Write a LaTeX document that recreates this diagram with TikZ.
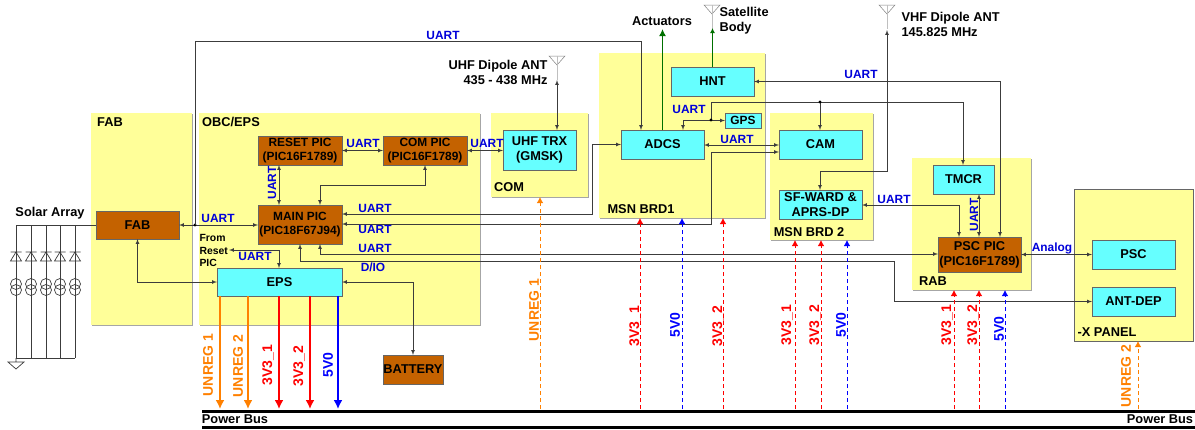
\documentclass[tikz,border=0pt]{standalone}
\usepackage{fontspec}
\setmainfont{Liberation Sans}
\usepackage{tikz}
\definecolor{boardyellow}{RGB}{255,255,153}
\definecolor{blockcyan}{RGB}{102,255,255}
\definecolor{picbrown}{RGB}{196,98,0}
\definecolor{pworange}{RGB}{255,128,0}
\definecolor{wiregray}{RGB}{60,60,60}
\definecolor{greenwire}{RGB}{0,112,0}
\usetikzlibrary{arrows, arrows.meta, shadows}

\begin{document}
\begin{tikzpicture}[x=1pt, y=-1pt, >=latex,
				font=\fontsize{12.8}{15}\selectfont\bfseries,
				panel/.style={anchor=north west, fill=boardyellow, inner sep=0pt, outer sep=0pt, drop shadow={shadow xshift=1pt, shadow yshift=-1pt, fill=gray!70, opacity=1}},
				block/.style={anchor=north west, draw=gray!80!black, fill=blockcyan, align=center, inner sep=0pt, outer sep=0pt},
				pic/.style={block, fill=picbrown},
				small/.style={font=\fontsize{11.9}{14}\selectfont\bfseries},
				wire/.style={draw=wiregray, line width=0.7pt},
				uart/.style={small, text=blue!85!black},
				pwr/.style={-{Latex[length=9pt,width=9pt]}, line width=1.7pt},
				pwrdash/.style={-{Latex[length=6pt,width=6.5pt]}, line width=0.9pt, dash pattern=on 4.5pt off 2.5pt}]
				\useasboundingbox (0,0) rectangle (1195,429);
				% Platinen
				\node[panel, minimum width=101pt, minimum height=212pt] (fabbrd) at (91,113) {};
				\node[panel, minimum width=281pt, minimum height=212pt] (obcbrd) at (199,113) {};
				\node[panel, minimum width=97pt, minimum height=84pt] (combrd) at (491,113) {};
				\node[panel, minimum width=166pt, minimum height=165pt] (msnone) at (599,53) {};
				\node[panel, minimum width=103pt, minimum height=127pt] (msntwo) at (770,113) {};
				\node[panel, minimum width=119pt, minimum height=132pt] (rabbrd) at (912,158) {};
				\node[panel, draw=black!60, minimum width=119pt, minimum height=152pt] (xpanel) at (1074,189) {};
				% Platinen beschriften
				\node (fabname) at (110,122) {FAB};
				\node (obcname) at (231,122) {OBC/EPS};
				\node (comname) at (509,187) {COM};
				\node (msnonename) at (641,209) {MSN BRD1};
				\node (msntwoname) at (809,232) {MSN BRD 2};
				\node (rabname) at (933,281) {RAB};
				\node (xname) at (1107,332) {-X PANEL};
				% Bloecke
				\node[pic, minimum width=83pt, minimum height=28pt] (fab) at (96,211) {FAB};
				\node[pic, small, minimum width=84pt, minimum height=29pt] (resetpic) at (258,136) {RESET PIC\\(PIC16F1789)};
				\node[pic, small, minimum width=84pt, minimum height=29pt] (compic) at (383,136) {COM PIC\\(PIC16F1789)};
				\node[pic, small, minimum width=84pt, minimum height=39pt] (mainpic) at (258,205) {MAIN PIC\\(PIC18F67J94)};
				\node[block, minimum width=125pt, minimum height=28pt] (eps) at (217,268) {EPS};
				\node[pic, minimum width=60pt, minimum height=29pt] (battery) at (383,355) {BATTERY};
				\node[block, minimum width=73pt, minimum height=40pt] (uhftrx) at (503,130) {UHF TRX\\(GMSK)};
				\node[block, minimum width=83pt, minimum height=29pt] (adcs) at (621,130) {ADCS};
				\node[block, minimum width=83pt, minimum height=29pt] (hnt) at (671,67) {HNT};
				\node[block, small, minimum width=36pt, minimum height=15pt] (gps) at (725,113) {GPS};
				\node[block, minimum width=83pt, minimum height=29pt] (cam) at (779,130) {CAM};
				\node[block, minimum width=83pt, minimum height=29pt] (sfward) at (779,190) {SF-WARD \&\\APRS-DP};
				\node[block, minimum width=61pt, minimum height=29pt] (tmcr) at (933,165) {TMCR};
				\node[pic, minimum width=83pt, minimum height=35pt] (pscpic) at (938,237) {PSC PIC\\(PIC16F1789)};
				\node[block, minimum width=83pt, minimum height=29pt] (psc) at (1092,240) {PSC};
				\node[block, minimum width=83pt, minimum height=29pt] (antdep) at (1092,287) {ANT-DEP};
				% Antennen
				\coordinate (uhfant) at (557,56);
				\coordinate (satant) at (712,5);
				\coordinate (vhfant) at (887,5);
				\foreach \a in {uhfant,satant,vhfant} {
					\draw[gray, line width=0.5pt] (\a) ++(-8,0) -- ++(16,0) -- ++(-8,9) -- cycle;
					\draw[gray!50, line width=0.6pt] (\a) -- ++(0,24);
				}
				% Solarzellen
				\node (solar) at (50,213) {Solar Array};
				\coordinate (gnd) at (16,358);
				\draw[wire] (fab.west) -- (fab.west -| gnd) -- (gnd);
				\foreach \x in {31,46,60,75} {
					\draw[wire] (\x,225) -- (\x,358);
				}
				\foreach \x in {16,31,46,60,75} {
					\draw[wire] (\x,252) ++(-5.5,0) -- ++(11,0) ++(-5.5,0) -- ++(-5.5,9) -- ++(11,0) -- cycle;
					\draw[wire] (\x,284) circle[radius=5.5];
					\draw[wire] (\x,290) circle[radius=5.5];
				}
				\draw[wire] (gnd) -- (75,358);
				\draw[wire] (gnd) -- ++(0,4) ++(-8,0) -- ++(16,0) -- ++(-8,7) -- cycle;
				% Verbindungen OBC/EPS
				\coordinate (fabjoint) at (195,225);
				\draw[wire, <->] (fab.east) -- (fab.east -| mainpic.west);
				\fill[black] (fabjoint) circle[radius=1.6];
				\draw[wire, ->] (fabjoint) -- (195,41) -- (641,41) -- (641,0 |- adcs.north);
				\draw[wire, <->] (fab.south) |- (eps.west);
				\draw[wire, <->] (resetpic.east) -- (compic.west);
				\draw[wire, <->] (279,0 |- resetpic.south) -- (279,0 |- mainpic.north);
				\draw[wire, <->] (compic.south) -- (425,185) -- (320,185) -- (320,0 |- mainpic.north);
				\draw[wire, <->] (compic.east) -- (compic.east -| uhftrx.west);
				\draw[wire, <->] (uhftrx.north -| uhfant) -- (557,80);
				\coordinate (fromreset) at (229,250);
				\draw[wire, <->] (fromreset) -- (279,250) -- (279,0 |- eps.north);
				\draw[wire, <->] (eps.east) -- (413,0 |- eps.east) -- (413,0 |- battery.north);
				% lange Leitungen
				\draw[wire, <->] (mainpic.east |- 0,214) -- (592,214) |- (adcs.west);
				\draw[wire, <->] (mainpic.east |- 0,224) -- (711,224) -- (711,152) -- (cam.west |- 0,152);
				\draw[wire, <->] (320,0 |- mainpic.south) -- (320,254) -- (pscpic.west |- 0,254);
				\draw[wire, <->] (300,0 |- mainpic.south) -- (300,261) -- (894,261) |- (antdep.west);
				\draw[wire, <->] (adcs.east |- 0,145) -- (cam.west |- 0,145);
				\draw[wire, <->] (hnt.east) -- (1000,0 |- hnt.east) -- (1000,0 |- pscpic.north);
				% GPS-Strang
				\coordinate (gpsjoint) at (711,120);
				\coordinate (camjoint) at (820,102);
				\draw[wire, ->] (gpsjoint) -- (gpsjoint |- gps.west) -- (gps.west);
				\draw[wire, ->] (gpsjoint) -- (683,120) -- (683,0 |- adcs.north);
				\draw[wire, ->] (gpsjoint) -- (711,102) -- (963,102) -- (963,0 |- tmcr.north);
				\draw[wire, ->] (camjoint) -- (camjoint |- cam.north);
				\fill[black] (gpsjoint) circle[radius=1.6];
				\fill[black] (camjoint) circle[radius=1.6];
				% VHF und RAB
				\draw[wire, <->] (820,0 |- sfward.north) -- (820,171) -- (887,171) -- (887,30);
				\draw[wire, <->] (sfward.east |- 0,205) -- (959,205) -- (959,0 |- pscpic.north);
				\draw[wire, <->] (979,0 |- tmcr.south) -- (979,0 |- pscpic.north);
				\draw[wire, <->] (pscpic.east |- psc.west) -- (psc.west);
				% Aktuatoren
				\node (actuators) at (662,21) {Actuators};
				\draw[-{Latex[length=7pt,width=7pt]}, greenwire, line width=1.6pt] (adcs.north) -- (adcs.north |- actuators.south);
				\draw[-{Latex[length=5pt,width=5pt]}, greenwire, line width=1.1pt] (hnt.north) -- (hnt.north |- 0,28);
				% Power Bus
				\coordinate (busleft) at (202,411);
				\coordinate (busright) at (1195,411);
				\coordinate (bus) at (202,409);
				\draw[line width=3pt] (busleft) -- (busright);
				\draw[line width=3pt] (202,427.5) -- (1195,427.5);
				\node (busnamel) at (235,419) {Power Bus};
				\node (busnamer) at (1160,419) {Power Bus};
				\foreach \x/\c in {220/pworange,248/pworange,279/red,310/red,338/blue} {
					\draw[pwr,\c] (\x,0 |- eps.south) -- (\x,0 |- bus);
				}
				\foreach \x/\c/\b in {540/pworange/combrd,640/red/msnone,682/blue/msnone,723/red/msnone,795/red/msntwo,821/red/msntwo,847/blue/msntwo,954/red/rabbrd,979/red/rabbrd,1005/blue/rabbrd,1138/pworange/xpanel} {
					\draw[pwrdash,\c] (\x,0 |- bus) -- (\x,0 |- \b.south);
				}
				% Spannungen beschriften
				\foreach \n/\x/\y/\c/\t in {a/208/365/pworange/UNREG 1,b/238/366/pworange/UNREG 2,c/268/365/red/3V3\_1,d/299/366/red/3V3\_2,e/328/365/blue/5V0,f/534/310/pworange/UNREG 1,g/635/326/red/3V3\_1,h/675/325/blue/5V0,i/718/326/red/3V3\_2,j/787/325/red/3V3\_1,k/815/325/red/3V3\_2,l/841/325/blue/5V0,m/947/325/red/3V3\_1,n/973/325/red/3V3\_2,o/999/329/blue/5V0,p/1126/376/pworange/UNREG 2} {
					\node[rotate=90, text=\c, font=\fontsize{14}{16}\selectfont\bfseries] (volt\n) at (\x,\y) {\t};
				}
				% UART beschriften
				\foreach \n/\x/\y in {a/218/218,b/363/143,c/255/256,d/375/208,e/375/229,f/375/248,g/487/143,h/443/35,i/689/109,j/737/139,k/861/74,l/894/199} {
					\node[uart] (uart\n) at (\x,\y) {UART};
				}
				\node[uart, rotate=90] (uartm) at (272,183) {UART};
				\node[uart, rotate=90] (uartn) at (974,215) {UART};
				\node[uart] (dio) at (373,267) {D/IO};
				\node[uart] (analog) at (1052,248) {Analog};
				% sonstige Texte
				\node[anchor=west, align=left, font=\fontsize{10.4}{12.5}\selectfont\bfseries] (fromtxt) at (196,250.5) {From\\Reset\\PIC};
				\node[anchor=west, align=left] (sattxt) at (716,21) {Satellite\\Body};
				\node[anchor=west, align=left] (vhftxt) at (898,24.5) {VHF Dipole ANT\\145.825 MHz};
				\node[anchor=east, align=right] (uhftxt) at (551,72.5) {UHF Dipole ANT\\435 - 438 MHz};
			\end{tikzpicture}
\end{document}
